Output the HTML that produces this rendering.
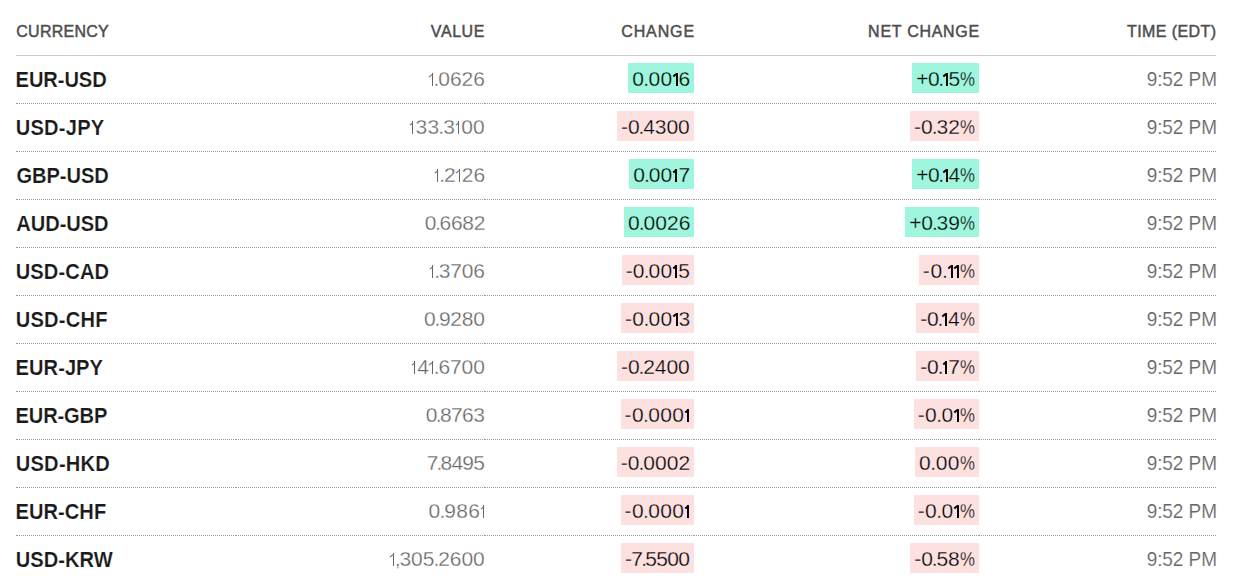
<!DOCTYPE html>
<html><head><meta charset="utf-8"><style>
html,body{margin:0;padding:0;background:#fff;}
body{width:1236px;height:578px;overflow:hidden;position:relative;font-family:"Liberation Sans",sans-serif;}
.hl{position:absolute;left:16px;top:55px;width:1200px;height:1px;background:#ccc;}
.dl{position:absolute;left:16px;width:1200px;height:0;border-top:1px dotted #999;}
.s{position:absolute;white-space:nowrap;}
.bx{position:absolute;height:30px;}
.d{font-style:normal;margin:0 -1.1px 0 -1.0px;}
.pc{display:inline-block;width:14.8px;transform:scaleX(0.8);transform-origin:0 0;font-style:normal;letter-spacing:0;}
.o{display:inline-block;width:6px;position:relative;color:transparent;-webkit-text-stroke:0;letter-spacing:0;font-style:normal;--sw:0.4;}
.o::before{content:"";position:absolute;left:var(--sl);width:var(--sww);height:var(--sh);bottom:var(--sb);background:var(--c);transform:rotate(0.01deg);}
.o::after{content:"";position:absolute;left:var(--fl);width:var(--fw);height:var(--fh);bottom:var(--fb);background:var(--c);transform:rotate(var(--fr));transform-origin:100% 50%;}
.v,.tm{--c:#666;} .btg,.btp{--c:#000;}
.o{--sl:3.0px;--sww:1.35px;--sh:14.3px;--sb:3.7px;--fl:-0.6px;--fw:4.4px;--fh:1.35px;--fb:16.15px;--fr:-42deg;}
.btg .o,.btp .o{--sww:1.65px;--fh:1.5px;}
.g{background:#a0f5de;}
.p{background:#fde1e1;}
.h{font-size:16px;line-height:20px;font-weight:normal;color:#4d4d4d;-webkit-text-stroke:0.45px #4d4d4d;transform:scaleY(1.075);transform-origin:0 16.0px;}
.nm{font-size:20.1px;line-height:24px;font-weight:bold;color:#1a1a1a;-webkit-text-stroke:0.15px #fff;transform:scaleY(1.096);transform-origin:0 19.200000000000003px;}
.v{font-size:21px;line-height:22px;font-weight:normal;color:#666;-webkit-text-stroke:0.3px #fff;transform:scaleY(0.93);transform-origin:0 17.6px;}
.tm{font-size:19px;line-height:22px;font-weight:normal;color:#666;-webkit-text-stroke:0.15px #fff;transform:scaleY(1.095);transform-origin:0 17.6px;}
.btg{font-size:21px;line-height:22px;font-weight:normal;color:#000;-webkit-text-stroke:0.3px #a0f5de;transform:scaleY(0.93);transform-origin:0 17.6px;}
.btp{font-size:21px;line-height:22px;font-weight:normal;color:#000;-webkit-text-stroke:0.3px #fde1e1;transform:scaleY(0.93);transform-origin:0 17.6px;}
</style></head><body>
<div class="hl"></div>
<div class="dl" style="top:103px;left:16px;width:220px"></div>
<div class="dl" style="top:103px;left:236px;width:249px"></div>
<div class="dl" style="top:103px;left:485px;width:209px"></div>
<div class="dl" style="top:103px;left:694px;width:285px"></div>
<div class="dl" style="top:103px;left:979px;width:237px"></div>
<div class="dl" style="top:151px;left:16px;width:220px"></div>
<div class="dl" style="top:151px;left:236px;width:249px"></div>
<div class="dl" style="top:151px;left:485px;width:209px"></div>
<div class="dl" style="top:151px;left:694px;width:285px"></div>
<div class="dl" style="top:151px;left:979px;width:237px"></div>
<div class="dl" style="top:199px;left:16px;width:220px"></div>
<div class="dl" style="top:199px;left:236px;width:249px"></div>
<div class="dl" style="top:199px;left:485px;width:209px"></div>
<div class="dl" style="top:199px;left:694px;width:285px"></div>
<div class="dl" style="top:199px;left:979px;width:237px"></div>
<div class="dl" style="top:247px;left:16px;width:220px"></div>
<div class="dl" style="top:247px;left:236px;width:249px"></div>
<div class="dl" style="top:247px;left:485px;width:209px"></div>
<div class="dl" style="top:247px;left:694px;width:285px"></div>
<div class="dl" style="top:247px;left:979px;width:237px"></div>
<div class="dl" style="top:295px;left:16px;width:220px"></div>
<div class="dl" style="top:295px;left:236px;width:249px"></div>
<div class="dl" style="top:295px;left:485px;width:209px"></div>
<div class="dl" style="top:295px;left:694px;width:285px"></div>
<div class="dl" style="top:295px;left:979px;width:237px"></div>
<div class="dl" style="top:343px;left:16px;width:220px"></div>
<div class="dl" style="top:343px;left:236px;width:249px"></div>
<div class="dl" style="top:343px;left:485px;width:209px"></div>
<div class="dl" style="top:343px;left:694px;width:285px"></div>
<div class="dl" style="top:343px;left:979px;width:237px"></div>
<div class="dl" style="top:391px;left:16px;width:220px"></div>
<div class="dl" style="top:391px;left:236px;width:249px"></div>
<div class="dl" style="top:391px;left:485px;width:209px"></div>
<div class="dl" style="top:391px;left:694px;width:285px"></div>
<div class="dl" style="top:391px;left:979px;width:237px"></div>
<div class="dl" style="top:439px;left:16px;width:220px"></div>
<div class="dl" style="top:439px;left:236px;width:249px"></div>
<div class="dl" style="top:439px;left:485px;width:209px"></div>
<div class="dl" style="top:439px;left:694px;width:285px"></div>
<div class="dl" style="top:439px;left:979px;width:237px"></div>
<div class="dl" style="top:487px;left:16px;width:220px"></div>
<div class="dl" style="top:487px;left:236px;width:249px"></div>
<div class="dl" style="top:487px;left:485px;width:209px"></div>
<div class="dl" style="top:487px;left:694px;width:285px"></div>
<div class="dl" style="top:487px;left:979px;width:237px"></div>
<div class="dl" style="top:535px;left:16px;width:220px"></div>
<div class="dl" style="top:535px;left:236px;width:249px"></div>
<div class="dl" style="top:535px;left:485px;width:209px"></div>
<div class="dl" style="top:535px;left:694px;width:285px"></div>
<div class="dl" style="top:535px;left:979px;width:237px"></div>
<div class="dl" style="top:583px;left:16px;width:220px"></div>
<div class="dl" style="top:583px;left:236px;width:249px"></div>
<div class="dl" style="top:583px;left:485px;width:209px"></div>
<div class="dl" style="top:583px;left:694px;width:285px"></div>
<div class="dl" style="top:583px;left:979px;width:237px"></div>
<div class="bx g" style="left:628px;width:66px;top:63px"></div>
<div class="bx g" style="left:912px;width:67px;top:63px"></div>
<div class="bx p" style="left:617px;width:77px;top:111px"></div>
<div class="bx p" style="left:910px;width:69px;top:111px"></div>
<div class="bx g" style="left:629px;width:65px;top:159px"></div>
<div class="bx g" style="left:912px;width:67px;top:159px"></div>
<div class="bx g" style="left:624px;width:70px;top:207px"></div>
<div class="bx g" style="left:905px;width:74px;top:207px"></div>
<div class="bx p" style="left:622px;width:72px;top:255px"></div>
<div class="bx p" style="left:919px;width:60px;top:255px"></div>
<div class="bx p" style="left:621px;width:73px;top:303px"></div>
<div class="bx p" style="left:916px;width:63px;top:303px"></div>
<div class="bx p" style="left:617px;width:77px;top:351px"></div>
<div class="bx p" style="left:916px;width:63px;top:351px"></div>
<div class="bx p" style="left:621px;width:73px;top:399px"></div>
<div class="bx p" style="left:914px;width:65px;top:399px"></div>
<div class="bx p" style="left:617px;width:77px;top:447px"></div>
<div class="bx p" style="left:915px;width:64px;top:447px"></div>
<div class="bx p" style="left:621px;width:73px;top:495px"></div>
<div class="bx p" style="left:914px;width:65px;top:495px"></div>
<div class="bx p" style="left:621px;width:73px;top:543px"></div>
<div class="bx p" style="left:910px;width:69px;top:543px"></div>
<span id="h0" class="s h" style="left:16.25px;top:21.90px;letter-spacing:0.258px">CURRENCY</span>
<span id="h1" class="s h" style="left:430.87px;top:21.90px;letter-spacing:0.569px">VALUE</span>
<span id="h2" class="s h" style="left:621.25px;top:21.90px;letter-spacing:0.878px">CHANGE</span>
<span id="h3" class="s h" style="left:868.11px;top:21.90px;letter-spacing:0.719px">NET CHANGE</span>
<span id="h4" class="s h" style="left:1127.01px;top:21.90px;letter-spacing:0.412px">TIME (EDT)</span>
<span id="n0" class="s nm" style="left:15.60px;top:68.10px;letter-spacing:-0.077px">EUR-USD</span>
<span id="v0" class="s v" style="left:428.58px;top:68.30px;letter-spacing:-0.025px"><i class="o">1</i><i class="d">.</i>0626</span>
<span id="c0" class="s btg" style="left:632.23px;top:68.45px;letter-spacing:0.376px">0<i class="d">.</i>00<i class="o">1</i>6</span>
<span id="x0" class="s btg" style="left:916.16px;top:68.45px;letter-spacing:-0.425px">+0<i class="d">.</i><i class="o">1</i>5<i class="pc">%</i></span>
<span id="t0" class="s tm" style="left:1146.67px;top:69.00px;letter-spacing:-0.071px">9:52 PM</span>
<span id="n1" class="s nm" style="left:15.69px;top:116.10px;letter-spacing:0.242px">USD-JPY</span>
<span id="v1" class="s v" style="left:409.47px;top:116.30px;letter-spacing:0.231px"><i class="o">1</i>33<i class="d">.</i>3<i class="o">1</i>00</span>
<span id="c1" class="s btp" style="left:620.98px;top:116.45px;letter-spacing:-0.063px">-0<i class="d">.</i>4300</span>
<span id="x1" class="s btp" style="left:913.91px;top:116.45px;letter-spacing:0.084px">-0<i class="d">.</i>32<i class="pc">%</i></span>
<span id="t1" class="s tm" style="left:1146.67px;top:117.00px;letter-spacing:-0.071px">9:52 PM</span>
<span id="n2" class="s nm" style="left:16.42px;top:164.10px;letter-spacing:-0.032px">GBP-USD</span>
<span id="v2" class="s v" style="left:434.28px;top:164.30px;letter-spacing:0.014px"><i class="o">1</i><i class="d">.</i>2<i class="o">1</i>26</span>
<span id="c2" class="s btg" style="left:633.23px;top:164.45px;letter-spacing:0.100px">0<i class="d">.</i>00<i class="o">1</i>7</span>
<span id="x2" class="s btg" style="left:916.16px;top:164.45px;letter-spacing:-0.425px">+0<i class="d">.</i><i class="o">1</i>4<i class="pc">%</i></span>
<span id="t2" class="s tm" style="left:1146.67px;top:165.00px;letter-spacing:-0.071px">9:52 PM</span>
<span id="n3" class="s nm" style="left:16.32px;top:212.10px;letter-spacing:-0.064px">AUD-USD</span>
<span id="v3" class="s v" style="left:424.71px;top:212.30px;letter-spacing:-0.296px">0<i class="d">.</i>6682</span>
<span id="c3" class="s btg" style="left:627.98px;top:212.45px;letter-spacing:0.046px">0<i class="d">.</i>0026</span>
<span id="x3" class="s btg" style="left:909.16px;top:212.45px;letter-spacing:-0.082px">+0<i class="d">.</i>39<i class="pc">%</i></span>
<span id="t3" class="s tm" style="left:1146.67px;top:213.00px;letter-spacing:-0.071px">9:52 PM</span>
<span id="n4" class="s nm" style="left:15.69px;top:260.10px;letter-spacing:0.124px">USD-CAD</span>
<span id="v4" class="s v" style="left:429.22px;top:260.30px;letter-spacing:-0.174px"><i class="o">1</i><i class="d">.</i>3706</span>
<span id="c4" class="s btp" style="left:625.67px;top:260.45px;letter-spacing:0.152px">-0<i class="d">.</i>00<i class="o">1</i>5</span>
<span id="x4" class="s btp" style="left:922.76px;top:260.45px;letter-spacing:0.782px">-0<i class="d">.</i><i class="o">1</i><i class="o">1</i><i class="pc">%</i></span>
<span id="t4" class="s tm" style="left:1146.67px;top:261.00px;letter-spacing:-0.071px">9:52 PM</span>
<span id="n5" class="s nm" style="left:15.69px;top:308.10px;letter-spacing:0.234px">USD-CHF</span>
<span id="v5" class="s v" style="left:424.03px;top:308.30px;letter-spacing:-0.261px">0<i class="d">.</i>9280</span>
<span id="c5" class="s btp" style="left:624.99px;top:308.45px;letter-spacing:0.365px">-0<i class="d">.</i>00<i class="o">1</i>3</span>
<span id="x5" class="s btp" style="left:920.27px;top:308.45px;letter-spacing:-0.215px">-0<i class="d">.</i><i class="o">1</i>4<i class="pc">%</i></span>
<span id="t5" class="s tm" style="left:1146.67px;top:309.00px;letter-spacing:-0.071px">9:52 PM</span>
<span id="n6" class="s nm" style="left:15.60px;top:356.10px;letter-spacing:0.043px">EUR-JPY</span>
<span id="v6" class="s v" style="left:411.28px;top:356.30px;letter-spacing:-0.111px"><i class="o">1</i>4<i class="o">1</i><i class="d">.</i>6700</span>
<span id="c6" class="s btp" style="left:620.98px;top:356.45px;letter-spacing:-0.063px">-0<i class="d">.</i>2400</span>
<span id="x6" class="s btp" style="left:920.26px;top:356.45px;letter-spacing:-0.134px">-0<i class="d">.</i><i class="o">1</i>7<i class="pc">%</i></span>
<span id="t6" class="s tm" style="left:1146.67px;top:357.00px;letter-spacing:-0.071px">9:52 PM</span>
<span id="n7" class="s nm" style="left:15.60px;top:404.10px;letter-spacing:-0.162px">EUR-GBP</span>
<span id="v7" class="s v" style="left:425.69px;top:404.30px;letter-spacing:-0.598px">0<i class="d">.</i>8763</span>
<span id="c7" class="s btp" style="left:624.61px;top:404.45px;letter-spacing:0.391px">-0<i class="d">.</i>000<i class="o">1</i></span>
<span id="x7" class="s btp" style="left:917.63px;top:404.45px;letter-spacing:0.483px">-0<i class="d">.</i>0<i class="o">1</i><i class="pc">%</i></span>
<span id="t7" class="s tm" style="left:1146.67px;top:405.00px;letter-spacing:-0.071px">9:52 PM</span>
<span id="n8" class="s nm" style="left:15.69px;top:452.10px;letter-spacing:0.258px">USD-HKD</span>
<span id="v8" class="s v" style="left:426.64px;top:452.30px;letter-spacing:-0.780px">7<i class="d">.</i>8495</span>
<span id="c8" class="s btp" style="left:620.64px;top:452.45px;letter-spacing:0.085px">-0<i class="d">.</i>0002</span>
<span id="x8" class="s btp" style="left:919.10px;top:452.45px;letter-spacing:0.545px">0<i class="d">.</i>00<i class="pc">%</i></span>
<span id="t8" class="s tm" style="left:1146.67px;top:453.00px;letter-spacing:-0.071px">9:52 PM</span>
<span id="n9" class="s nm" style="left:15.60px;top:500.10px;letter-spacing:0.024px">EUR-CHF</span>
<span id="v9" class="s v" style="left:428.48px;top:500.30px;letter-spacing:0.228px">0<i class="d">.</i>986<i class="o">1</i></span>
<span id="c9" class="s btp" style="left:624.61px;top:500.45px;letter-spacing:0.391px">-0<i class="d">.</i>000<i class="o">1</i></span>
<span id="x9" class="s btp" style="left:917.63px;top:500.45px;letter-spacing:0.483px">-0<i class="d">.</i>0<i class="o">1</i><i class="pc">%</i></span>
<span id="t9" class="s tm" style="left:1146.67px;top:501.00px;letter-spacing:-0.071px">9:52 PM</span>
<span id="n10" class="s nm" style="left:15.69px;top:548.10px;letter-spacing:0.059px">USD-KRW</span>
<span id="v10" class="s v" style="left:389.74px;top:548.30px;letter-spacing:-0.026px"><i class="o">1</i><i class="d">,</i>305<i class="d">.</i>2600</span>
<span id="c10" class="s btp" style="left:625.00px;top:548.45px;letter-spacing:-0.722px">-7<i class="d">.</i>5500</span>
<span id="x10" class="s btp" style="left:914.27px;top:548.45px;letter-spacing:-0.085px">-0<i class="d">.</i>58<i class="pc">%</i></span>
<span id="t10" class="s tm" style="left:1146.67px;top:549.00px;letter-spacing:-0.071px">9:52 PM</span>
</body></html>
